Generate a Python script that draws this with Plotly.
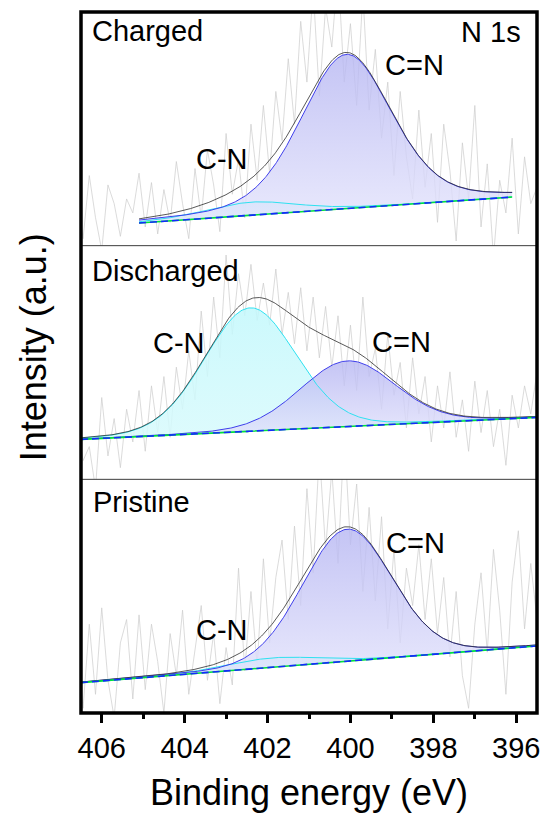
import numpy as np
import plotly.graph_objects as go
from plotly.subplots import make_subplots

# Binding-energy axis of the measured N 1s spectra (eV)
energy = np.round(406.6 - 0.15 * np.arange(75), 2)

# Measured intensities (arbitrary units, each panel on a 0-100 scale)
charged_raw = [22, 3, 30, 12, -2, 26, 18, 4, 20, 14,
               31, 8, 27, 5, 24, 10, 36, 18, 3, 33,
               12, 41, 26, 6, 48, 22, 37, 12, 52, 28,
               60, 31, 66, 45, 80, 52, 96, 70, 110, 64,
               102, 85, 118, 70, 95, 60, 108, 58, 84, 46,
               70, 30, 66, 38, 20, 58, 25, 48, 10, 52,
               32, 2, 44, 20, 60, 8, 35, -5, 28, 14,
               46, 5, 38, 18, 25]
discharged_raw = [24, 8, 14, -4, 35, 10, 26, 5, 30, 16,
                  38, 12, 40, 20, 44, 18, 48, 30, 55, 34,
                  72, 44, 78, 52, 96, 62, 88, 70, 92, 68,
                  84, 66, 90, 62, 80, 58, 82, 55, 78, 52,
                  74, 48, 70, 40, 66, 38, 78, 44, 56, 30,
                  62, 36, 50, 22, 52, 28, 44, 16, 40, 22,
                  46, 18, 34, 12, 42, 20, 38, 14, 30, 6,
                  36, 22, 40, 28, 46]
pristine_raw = [30, 2, 38, 8, 45, 14, -2, 30, 40, 6,
                42, 10, 38, 22, 0, 34, 16, 44, 8, 26,
                46, 14, 34, 4, 28, 12, 62, 18, 52, 20,
                66, 30, 58, 74, 40, 80, 46, 96, 60, 112,
                70, 104, 64, 120, 72, 98, 52, 88, 48, 84,
                36, 70, 30, 62, 46, 72, 40, 66, 34, 58,
                24, 52, 16, 2, 38, 60, 26, 70, 44, 8,
                56, 78, 36, 64, 40]

# Fit results: components are [C=N, C-N]
component_names = ["C=N", "C-N"]

charged_window = [405.1, 396.1]      # fitted energy window (eV)
charged_background = [9.7, 20.8]     # linear background at the window ends
charged_center = [400.1, 402.4]
charged_fwhm = [2.6, 2.6]
charged_height = [66.0, 5.6]
charged_eta = 0.3                    # Lorentzian fraction of the pseudo-Voigt

discharged_window = [406.5, 395.5]
discharged_background = [17.1, 26.5]
discharged_center = [400.07, 402.42]
discharged_fwhm = [2.7, 2.6]
discharged_height = [28.1, 52.8]
discharged_eta = 0.1

pristine_window = [406.5, 395.5]
pristine_background = [13.0, 28.7]
pristine_center = [400.08, 401.9]
pristine_fwhm = [2.55, 2.6]
pristine_height = [56.5, 4.0]
pristine_eta = 0.1

panel_titles = ["Charged", "Discharged", "Pristine"]

FONT = "Arial, 'Liberation Sans', sans-serif"
RAW_COLOR = "rgb(204,204,204)"
ENVELOPE_COLOR = "rgb(45,45,45)"
CN_DOUBLE_LINE = "rgb(62,62,235)"
CN_SINGLE_LINE = "rgb(45,225,240)"


def pseudo_voigt(e, center, fwhm, height, eta):
    d2 = 4.0 * (e - center) ** 2 / fwhm ** 2
    return height * ((1 - eta) * np.exp(-np.log(2) * d2) + eta / (1 + d2))


fig = make_subplots(rows=3, cols=1, shared_xaxes=True, vertical_spacing=0)

panels = [
    (charged_raw, charged_window, charged_background, charged_center,
     charged_fwhm, charged_height, charged_eta),
    (discharged_raw, discharged_window, discharged_background, discharged_center,
     discharged_fwhm, discharged_height, discharged_eta),
    (pristine_raw, pristine_window, pristine_background, pristine_center,
     pristine_fwhm, pristine_height, pristine_eta),
]

for row, (raw, window, bgnd, centers, fwhms, heights, eta) in enumerate(panels, start=1):
    e = np.linspace(window[0], window[1], 400)
    bg = bgnd[0] + (bgnd[1] - bgnd[0]) * (window[0] - e) / (window[0] - window[1])
    peaks = [pseudo_voigt(e, c, w, h, eta) for c, w, h in zip(centers, fwhms, heights)]
    envelope = bg + sum(peaks)

    # raw spectrum
    fig.add_trace(go.Scatter(x=energy, y=raw, mode="lines",
                             line=dict(color=RAW_COLOR, width=0.7),
                             showlegend=False, hoverinfo="skip"), row=row, col=1)

    # C-N component area
    fig.add_trace(go.Scatter(x=e, y=bg, mode="lines", line=dict(width=0),
                             showlegend=False, hoverinfo="skip"), row=row, col=1)
    fig.add_trace(go.Scatter(x=e, y=bg + peaks[1], mode="lines", line=dict(width=0),
                             fill="tonexty",
                             fillgradient=dict(type="vertical",
                                               start=float(bg.min()),
                                               stop=float((bg + peaks[1]).max()),
                                               colorscale=[[0, "rgba(215,250,252,0.85)"],
                                                           [1, "rgba(195,248,252,0.85)"]]),
                             showlegend=False, hoverinfo="skip"), row=row, col=1)

    # C=N component area
    fig.add_trace(go.Scatter(x=e, y=bg, mode="lines", line=dict(width=0),
                             showlegend=False, hoverinfo="skip"), row=row, col=1)
    fig.add_trace(go.Scatter(x=e, y=bg + peaks[0], mode="lines", line=dict(width=0),
                             fill="tonexty",
                             fillgradient=dict(type="vertical",
                                               start=float(bg.min()),
                                               stop=float((bg + peaks[0]).max()),
                                               colorscale=[[0, "rgba(228,228,252,0.8)"],
                                                           [1, "rgba(182,182,242,0.8)"]]),
                             showlegend=False, hoverinfo="skip"), row=row, col=1)

    # component outlines and envelope
    fig.add_trace(go.Scatter(x=e, y=bg + peaks[1], mode="lines",
                             line=dict(color=CN_SINGLE_LINE, width=1),
                             name=component_names[1], showlegend=False), row=row, col=1)
    fig.add_trace(go.Scatter(x=e, y=bg + peaks[0], mode="lines",
                             line=dict(color=CN_DOUBLE_LINE, width=1),
                             name=component_names[0], showlegend=False), row=row, col=1)
    fig.add_trace(go.Scatter(x=e, y=envelope, mode="lines",
                             line=dict(color=ENVELOPE_COLOR, width=0.8),
                             showlegend=False), row=row, col=1)

    # background
    fig.add_trace(go.Scatter(x=e, y=bg, mode="lines",
                             line=dict(color="rgb(0,225,60)", width=1.6),
                             showlegend=False, hoverinfo="skip"), row=row, col=1)
    fig.add_trace(go.Scatter(x=e, y=bg, mode="lines",
                             line=dict(color="rgb(20,40,255)", width=1.6, dash="7px,4px"),
                             showlegend=False, hoverinfo="skip"), row=row, col=1)

    fig.update_yaxes(range=[0, 100], showticklabels=False, ticks="", showgrid=False,
                     zeroline=False, showline=False, row=row, col=1)
    fig.update_xaxes(range=[406.5, 395.5], showgrid=False, zeroline=False,
                     showline=False, row=row, col=1)

fig.update_xaxes(ticks="", showticklabels=False, row=1, col=1)
fig.update_xaxes(ticks="", showticklabels=False, row=2, col=1)
fig.update_xaxes(ticks="outside", tick0=396, dtick=2, ticklen=9, tickwidth=3,
                 tickcolor="black", showticklabels=True,
                 tickfont=dict(family=FONT, size=29, color="black"),
                 minor=dict(ticks="outside", tick0=395, dtick=1, ticklen=5,
                            tickwidth=2.5, tickcolor="black"),
                 title=dict(text="Binding energy (eV)", standoff=17,
                            font=dict(family=FONT, size=36, color="black")),
                 row=3, col=1)

# panel labels and peak labels (energy, panel intensity)
text_font = dict(family=FONT, size=29, color="black")
annotations = [
    dict(text="Charged", x=406.28, y=91.8, xref="x", yref="y", xanchor="left"),
    dict(text="N 1s", x=395.84, y=91.3, xref="x", yref="y", xanchor="right"),
    dict(text="C=N", x=398.45, y=77.4, xref="x", yref="y", xanchor="center"),
    dict(text="C-N", x=403.09, y=37.0, xref="x", yref="y", xanchor="center"),
    dict(text="Discharged", x=406.28, y=89.3, xref="x2", yref="y2", xanchor="left"),
    dict(text="C-N", x=404.13, y=58.3, xref="x2", yref="y2", xanchor="center"),
    dict(text="C=N", x=398.78, y=58.8, xref="x2", yref="y2", xanchor="center"),
    dict(text="Pristine", x=406.27, y=90.5, xref="x3", yref="y3", xanchor="left"),
    dict(text="C-N", x=403.10, y=35.6, xref="x3", yref="y3", xanchor="center"),
    dict(text="C=N", x=398.42, y=72.7, xref="x3", yref="y3", xanchor="center"),
]
for a in annotations:
    fig.add_annotation(showarrow=False, yanchor="middle", font=text_font, **a)

fig.add_annotation(text="Intensity (a.u.)", xref="paper", yref="paper",
                   x=-0.104, y=0.521, textangle=-90, showarrow=False,
                   xanchor="center", yanchor="middle",
                   font=dict(family=FONT, size=36, color="black"))

# frame and panel separators
fig.add_shape(type="line", xref="paper", yref="paper", x0=0, x1=1, y0=1/3, y1=1/3,
              line=dict(color="rgb(60,60,60)", width=1))
fig.add_shape(type="line", xref="paper", yref="paper", x0=0, x1=1, y0=2/3, y1=2/3,
              line=dict(color="rgb(60,60,60)", width=1))
fig.add_shape(type="rect", xref="paper", yref="paper", x0=0, x1=1, y0=0, y1=1,
              line=dict(color="black", width=3.5))

fig.update_layout(width=549, height=816,
                  margin=dict(l=81, r=9, t=12, b=103),
                  paper_bgcolor="white", plot_bgcolor="white",
                  font=dict(family=FONT, color="black"),
                  showlegend=False)

fig.write_html("out.html")
